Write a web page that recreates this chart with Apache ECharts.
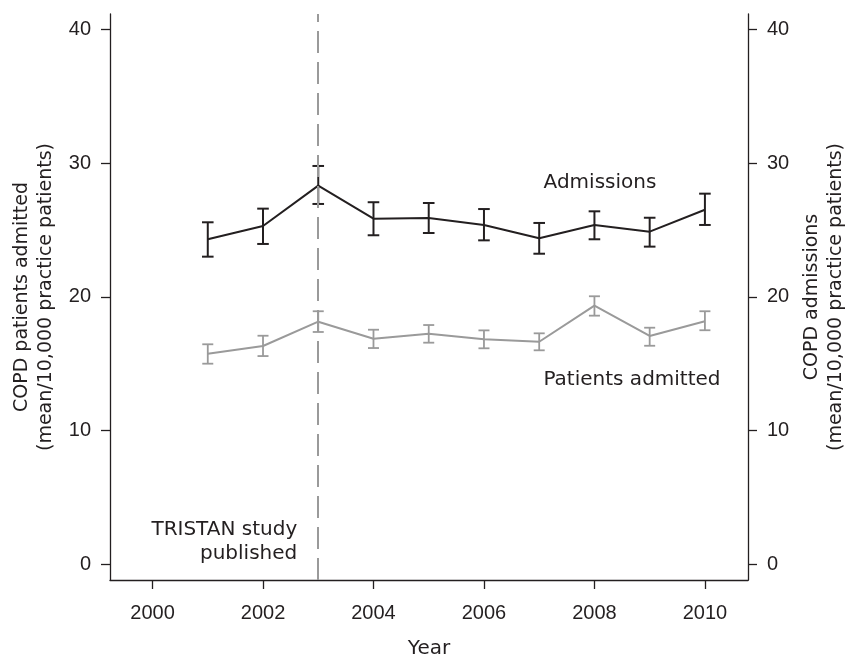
<!DOCTYPE html>
<html>
<head>
<meta charset="utf-8">
<script src="https://cdn.jsdelivr.net/npm/echarts@6/dist/echarts.min.js"></script>
<style>
  html, body { margin: 0; padding: 0; background: #ffffff; }
  #chart { width: 848px; height: 657px; }
</style>
</head>
<body>
<div id="chart"></div>
<script>
// ---- Data ----
const years = [2001, 2002, 2003, 2004, 2005, 2006, 2007, 2008, 2009, 2010];

const admissionsMean  = [24.30, 25.29, 28.31, 25.84, 25.89, 25.37, 24.37, 25.37, 24.87, 26.51];
const admissionsLower = [23.00, 23.95, 26.94, 24.60, 24.77, 24.22, 23.22, 24.30, 23.75, 25.37];
const admissionsUpper = [25.57, 26.59, 29.78, 27.07, 27.01, 26.56, 25.52, 26.39, 25.91, 27.71];

const patientsMean  = [15.75, 16.32, 18.14, 16.87, 17.24, 16.82, 16.64, 19.34, 17.07, 18.17];
const patientsLower = [15.00, 15.57, 17.37, 16.17, 16.57, 16.15, 16.00, 18.59, 16.34, 17.50];
const patientsUpper = [16.45, 17.09, 18.92, 17.54, 17.89, 17.49, 17.27, 20.04, 17.69, 18.92];

const xTickValues = [2000, 2002, 2004, 2006, 2008, 2010];
const yTickValues = [0, 10, 20, 30, 40];

const eventYear = 2003;

const annotationTexts = ['Admissions', 'Patients admitted', 'TRISTAN study\npublished'];
const annotationCoords = [[2008.10, 28.51], [2008.68, 13.83], [2002.62, 1.69]];

// ---- Styling ----
const INK = '#231f20';
const GREY = '#9a9a9a';
const TICK_FONT = 'Liberation Sans, Arial, sans-serif';
const TEXT_FONT = 'DejaVu Sans, sans-serif';

function pairs(xs, ys) { return xs.map((x, i) => [x, ys[i]]); }
function errData(xs, lo, hi) { return xs.map((x, i) => [x, lo[i], hi[i]]); }

function errorBarRenderer(color, halfCap, width) {
  return function (params, api) {
    const x = api.value(0);
    const lo = api.coord([x, api.value(1)]);
    const hi = api.coord([x, api.value(2)]);
    const style = { stroke: color, lineWidth: width, fill: null };
    return {
      type: 'group',
      children: [
        { type: 'line', shape: { x1: lo[0], y1: lo[1], x2: hi[0], y2: hi[1] }, style },
        { type: 'line', shape: { x1: lo[0] - halfCap, y1: lo[1], x2: lo[0] + halfCap, y2: lo[1] }, style },
        { type: 'line', shape: { x1: hi[0] - halfCap, y1: hi[1], x2: hi[0] + halfCap, y2: hi[1] }, style }
      ]
    };
  };
}

function annotationRenderer(params, api) {
  const i = params.dataIndex;
  const p = api.coord([api.value(0), api.value(1)]);
  return {
    type: 'text',
    x: p[0],
    y: p[1],
    silent: true,
    style: {
      text: annotationTexts[i],
      fill: INK,
      font: '20px ' + TEXT_FONT,
      lineHeight: 24,
      align: i === 2 ? 'right' : 'center',
      verticalAlign: 'middle'
    }
  };
}

const yAxisCommon = {
  type: 'value',
  min: -1.17,
  max: 41.14,
  splitLine: { show: false },
  axisLine: { show: true, lineStyle: { color: INK, width: 1.3 } },
  axisTick: { show: true, length: 9, customValues: yTickValues, lineStyle: { color: INK, width: 1.3 } },
  axisLabel: { customValues: yTickValues, margin: 19, color: INK, fontFamily: TICK_FONT, fontSize: 20 },
  nameLocation: 'middle',
  nameRotate: 90,
  nameTextStyle: { color: INK, fontFamily: TEXT_FONT, fontSize: 19, lineHeight: 24, align: 'center' }
};

const chart = echarts.init(document.getElementById('chart'), null, { renderer: 'canvas' });

chart.setOption({
  backgroundColor: '#ffffff',
  animation: false,
  grid: { left: 110, right: 100, top: 14, bottom: 77, containLabel: false, outerBoundsMode: 'none' },
  xAxis: {
    type: 'value',
    min: 1999.23,
    max: 2010.78,
    splitLine: { show: false },
    axisLine: { show: true, onZero: false, lineStyle: { color: INK, width: 1.3 } },
    axisTick: { show: true, length: 9, customValues: xTickValues, lineStyle: { color: INK, width: 1.3 } },
    axisLabel: {
      customValues: xTickValues, margin: 23, color: INK, fontFamily: TICK_FONT, fontSize: 20,
      formatter: v => String(v)
    },
    name: 'Year',
    nameLocation: 'middle',
    nameGap: 59,
    nameTextStyle: { color: INK, fontFamily: TEXT_FONT, fontSize: 20 }
  },
  yAxis: [
    Object.assign({}, yAxisCommon, {
      position: 'left',
      name: 'COPD patients admitted\n(mean/10,000 practice patients)',
      nameGap: 50
    }),
    Object.assign({}, yAxisCommon, {
      position: 'right',
      name: 'COPD admissions\n(mean/10,000 practice patients)',
      nameGap: 52
    })
  ],
  series: [
    {
      name: 'Admissions',
      type: 'line',
      data: pairs(years, admissionsMean),
      symbol: 'none',
      lineStyle: { color: INK, width: 2 },
      z: 3,
      markLine: {
        silent: true,
        symbol: ['none', 'none'],
        label: { show: false },
        lineStyle: { color: GREY, width: 2, type: [22, 9] },
        data: [{ xAxis: eventYear }]
      }
    },
    {
      name: 'Admissions CI',
      type: 'custom',
      data: errData(years, admissionsLower, admissionsUpper),
      renderItem: errorBarRenderer(INK, 5.8, 2),
      encode: { x: 0, y: [1, 2] },
      z: 3
    },
    {
      name: 'Patients admitted',
      type: 'line',
      data: pairs(years, patientsMean),
      symbol: 'none',
      lineStyle: { color: GREY, width: 2 },
      z: 2
    },
    {
      name: 'Patients admitted CI',
      type: 'custom',
      data: errData(years, patientsLower, patientsUpper),
      renderItem: errorBarRenderer(GREY, 5.5, 1.8),
      encode: { x: 0, y: [1, 2] },
      z: 2
    },
    {
      name: 'Annotations',
      type: 'custom',
      data: annotationCoords,
      renderItem: annotationRenderer,
      encode: { x: 0, y: 1 },
      silent: true,
      z: 4
    }
  ]
});
</script>
</body>
</html>
